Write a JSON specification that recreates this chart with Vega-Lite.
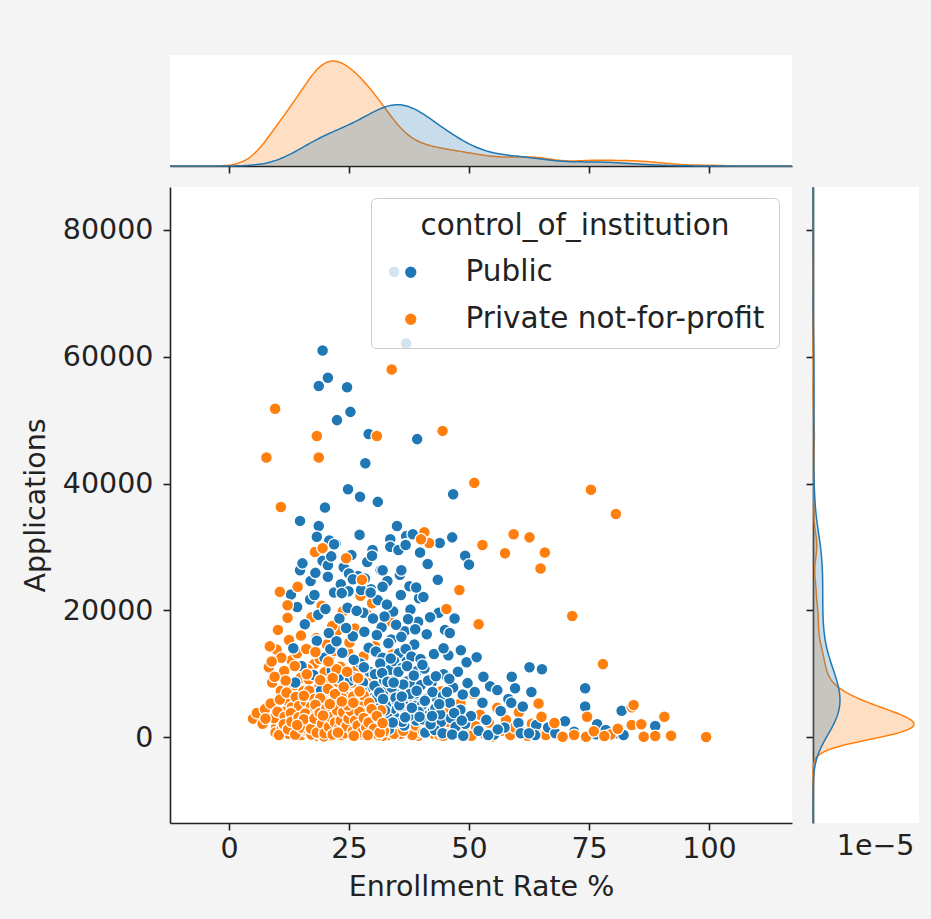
{
  "$schema": "https://vega.github.io/schema/vega-lite/v6.json",
  "background": "#f4f4f4",
  "padding": {"left": 21, "top": 55, "right": 13, "bottom": 18},
  "config": {
    "font": "DejaVu Sans",
    "view": {"stroke": null, "fill": "white"},
    "axis": {
      "labelFont": "DejaVu Sans", "titleFont": "DejaVu Sans",
      "labelFontSize": 28.5, "titleFontSize": 28.5, "titleFontWeight": "normal",
      "labelColor": "#222222", "titleColor": "#222222",
      "domainColor": "#222222", "tickColor": "#222222",
      "domainWidth": 1.6, "tickWidth": 1.6, "tickSize": 7, "grid": false
    }
  },
  "datasets": {
    "colleges": [
      {"rate":5.0,"apps":2900,"control":"Private not-for-profit"},{"rate":7.0,"apps":2100,"control":"Private not-for-profit"},{"rate":8.4,"apps":3600,"control":"Private not-for-profit"},{"rate":9.8,"apps":1500,"control":"Private not-for-profit"},{"rate":10.5,"apps":2800,"control":"Private not-for-profit"},{"rate":11.2,"apps":600,"control":"Private not-for-profit"},
      {"rate":11.9,"apps":4100,"control":"Private not-for-profit"},{"rate":12.6,"apps":1900,"control":"Private not-for-profit"},{"rate":13.3,"apps":300,"control":"Private not-for-profit"},{"rate":14.0,"apps":3300,"control":"Private not-for-profit"},{"rate":14.7,"apps":1100,"control":"Private not-for-profit"},{"rate":9.3,"apps":4700,"control":"Private not-for-profit"},{"rate":10.8,"apps":7300,"control":"Private not-for-profit"},{"rate":12.1,"apps":5800,"control":"Private not-for-profit"},
      {"rate":13.6,"apps":8200,"control":"Private not-for-profit"},{"rate":14.4,"apps":6100,"control":"Private not-for-profit"},{"rate":11.5,"apps":10400,"control":"Private not-for-profit"},{"rate":13.0,"apps":12100,"control":"Private not-for-profit"},{"rate":9.9,"apps":13800,"control":"Private not-for-profit"},{"rate":12.5,"apps":15300,"control":"Private not-for-profit"},{"rate":14.9,"apps":9300,"control":"Private not-for-profit"},{"rate":10.2,"apps":16900,"control":"Private not-for-profit"},{"rate":14.2,"apps":13200,"control":"Private not-for-profit"},
      {"rate":15.2,"apps":500,"control":"Private not-for-profit"},{"rate":15.8,"apps":2600,"control":"Private not-for-profit"},{"rate":16.3,"apps":4300,"control":"Private not-for-profit"},{"rate":16.9,"apps":1400,"control":"Private not-for-profit"},{"rate":17.4,"apps":200,"control":"Private not-for-profit"},{"rate":17.9,"apps":3500,"control":"Private not-for-profit"},{"rate":18.5,"apps":5600,"control":"Private not-for-profit"},{"rate":19.0,"apps":900,"control":"Private not-for-profit"},{"rate":19.6,"apps":2300,"control":"Private not-for-profit"},{"rate":20.1,"apps":6900,"control":"Private not-for-profit"},
      {"rate":20.7,"apps":300,"control":"Private not-for-profit"},{"rate":21.2,"apps":4000,"control":"Private not-for-profit"},{"rate":21.8,"apps":1700,"control":"Private not-for-profit"},{"rate":22.3,"apps":8100,"control":"Private not-for-profit"},{"rate":22.9,"apps":600,"control":"Private not-for-profit"},{"rate":23.4,"apps":3100,"control":"Private not-for-profit"},{"rate":24.0,"apps":5000,"control":"Private not-for-profit"},{"rate":24.6,"apps":1200,"control":"Private not-for-profit"},{"rate":15.5,"apps":7200,"control":"Private not-for-profit"},{"rate":16.6,"apps":9100,"control":"Private not-for-profit"},
      {"rate":17.7,"apps":11500,"control":"Private not-for-profit"},{"rate":18.8,"apps":7800,"control":"Private not-for-profit"},{"rate":19.9,"apps":10200,"control":"Private not-for-profit"},{"rate":21.0,"apps":12800,"control":"Private not-for-profit"},{"rate":22.1,"apps":9800,"control":"Private not-for-profit"},{"rate":23.2,"apps":11100,"control":"Private not-for-profit"},{"rate":24.3,"apps":7500,"control":"Private not-for-profit"},{"rate":16.1,"apps":13900,"control":"Private not-for-profit"},{"rate":18.2,"apps":15600,"control":"Private not-for-profit"},{"rate":20.4,"apps":14600,"control":"Private not-for-profit"},
      {"rate":22.6,"apps":16800,"control":"Private not-for-profit"},{"rate":24.8,"apps":13400,"control":"Private not-for-profit"},{"rate":17.2,"apps":18900,"control":"Private not-for-profit"},{"rate":19.3,"apps":20700,"control":"Private not-for-profit"},{"rate":21.5,"apps":17500,"control":"Private not-for-profit"},{"rate":23.7,"apps":19800,"control":"Private not-for-profit"},{"rate":15.9,"apps":800,"control":"Private not-for-profit"},{"rate":16.8,"apps":3000,"control":"Private not-for-profit"},{"rate":17.6,"apps":1900,"control":"Private not-for-profit"},{"rate":18.3,"apps":400,"control":"Private not-for-profit"},
      {"rate":19.4,"apps":4400,"control":"Private not-for-profit"},{"rate":20.5,"apps":2600,"control":"Private not-for-profit"},{"rate":21.6,"apps":700,"control":"Private not-for-profit"},{"rate":22.7,"apps":5300,"control":"Private not-for-profit"},{"rate":23.8,"apps":2000,"control":"Private not-for-profit"},{"rate":24.5,"apps":3800,"control":"Private not-for-profit"},{"rate":15.3,"apps":4900,"control":"Private not-for-profit"},{"rate":17.0,"apps":6300,"control":"Private not-for-profit"},{"rate":19.1,"apps":6600,"control":"Private not-for-profit"},{"rate":20.9,"apps":5900,"control":"Private not-for-profit"},
      {"rate":23.0,"apps":6800,"control":"Private not-for-profit"},{"rate":24.2,"apps":9000,"control":"Private not-for-profit"},{"rate":16.4,"apps":10700,"control":"Private not-for-profit"},{"rate":18.9,"apps":12300,"control":"Private not-for-profit"},{"rate":21.9,"apps":13600,"control":"Private not-for-profit"},{"rate":19.7,"apps":8700,"control":"Private not-for-profit"},
      {"rate":25.3,"apps":400,"control":"Private not-for-profit"},{"rate":25.9,"apps":2700,"control":"Private not-for-profit"},{"rate":26.5,"apps":5100,"control":"Private not-for-profit"},{"rate":27.1,"apps":1300,"control":"Private not-for-profit"},{"rate":27.7,"apps":3800,"control":"Private not-for-profit"},{"rate":28.3,"apps":600,"control":"Private not-for-profit"},{"rate":28.9,"apps":7000,"control":"Private not-for-profit"},{"rate":29.5,"apps":2200,"control":"Private not-for-profit"},{"rate":30.1,"apps":4500,"control":"Private not-for-profit"},{"rate":30.7,"apps":900,"control":"Private not-for-profit"},
      {"rate":31.3,"apps":6000,"control":"Private not-for-profit"},{"rate":31.9,"apps":1800,"control":"Private not-for-profit"},{"rate":32.5,"apps":3400,"control":"Private not-for-profit"},{"rate":33.1,"apps":300,"control":"Private not-for-profit"},{"rate":33.7,"apps":5400,"control":"Private not-for-profit"},{"rate":34.3,"apps":2500,"control":"Private not-for-profit"},{"rate":34.9,"apps":1000,"control":"Private not-for-profit"},{"rate":25.6,"apps":8600,"control":"Private not-for-profit"},{"rate":26.8,"apps":10800,"control":"Private not-for-profit"},{"rate":28.0,"apps":12700,"control":"Private not-for-profit"},
      {"rate":29.2,"apps":9400,"control":"Private not-for-profit"},{"rate":30.4,"apps":14300,"control":"Private not-for-profit"},{"rate":31.6,"apps":11300,"control":"Private not-for-profit"},{"rate":32.8,"apps":8300,"control":"Private not-for-profit"},{"rate":34.0,"apps":13000,"control":"Private not-for-profit"},{"rate":26.2,"apps":17100,"control":"Private not-for-profit"},{"rate":28.6,"apps":19500,"control":"Private not-for-profit"},{"rate":30.9,"apps":16100,"control":"Private not-for-profit"},{"rate":33.4,"apps":18300,"control":"Private not-for-profit"},{"rate":27.4,"apps":22300,"control":"Private not-for-profit"},
      {"rate":29.8,"apps":21100,"control":"Private not-for-profit"},{"rate":32.2,"apps":24000,"control":"Private not-for-profit"},{"rate":25.1,"apps":14900,"control":"Private not-for-profit"},{"rate":26.0,"apps":1500,"control":"Private not-for-profit"},{"rate":27.9,"apps":2900,"control":"Private not-for-profit"},{"rate":29.0,"apps":500,"control":"Private not-for-profit"},{"rate":30.6,"apps":3100,"control":"Private not-for-profit"},{"rate":32.0,"apps":4900,"control":"Private not-for-profit"},{"rate":33.5,"apps":1400,"control":"Private not-for-profit"},{"rate":34.6,"apps":6700,"control":"Private not-for-profit"},
      {"rate":35.4,"apps":300,"control":"Private not-for-profit"},{"rate":36.2,"apps":1900,"control":"Private not-for-profit"},{"rate":37.0,"apps":4200,"control":"Private not-for-profit"},{"rate":37.8,"apps":800,"control":"Private not-for-profit"},{"rate":38.6,"apps":2800,"control":"Private not-for-profit"},{"rate":39.4,"apps":200,"control":"Private not-for-profit"},{"rate":40.2,"apps":5800,"control":"Private not-for-profit"},{"rate":41.0,"apps":1500,"control":"Private not-for-profit"},{"rate":41.8,"apps":3600,"control":"Private not-for-profit"},{"rate":42.6,"apps":500,"control":"Private not-for-profit"},
      {"rate":43.4,"apps":2400,"control":"Private not-for-profit"},{"rate":44.2,"apps":7200,"control":"Private not-for-profit"},{"rate":45.0,"apps":1100,"control":"Private not-for-profit"},{"rate":45.8,"apps":3900,"control":"Private not-for-profit"},{"rate":46.6,"apps":400,"control":"Private not-for-profit"},{"rate":47.4,"apps":2000,"control":"Private not-for-profit"},{"rate":48.2,"apps":5300,"control":"Private not-for-profit"},{"rate":49.0,"apps":900,"control":"Private not-for-profit"},{"rate":49.8,"apps":2900,"control":"Private not-for-profit"},
      {"rate":39.1,"apps":600,"control":"Private not-for-profit"},{"rate":43.8,"apps":300,"control":"Private not-for-profit"},{"rate":46.9,"apps":1300,"control":"Private not-for-profit"},
      {"rate":30.8,"apps":1700,"control":"Private not-for-profit"},{"rate":31.5,"apps":3500,"control":"Private not-for-profit"},{"rate":32.0,"apps":200,"control":"Private not-for-profit"},{"rate":32.7,"apps":2600,"control":"Private not-for-profit"},{"rate":33.3,"apps":4400,"control":"Private not-for-profit"},{"rate":33.9,"apps":900,"control":"Private not-for-profit"},{"rate":34.6,"apps":3100,"control":"Private not-for-profit"},{"rate":35.1,"apps":1700,"control":"Private not-for-profit"},{"rate":35.8,"apps":500,"control":"Private not-for-profit"},{"rate":36.4,"apps":3300,"control":"Private not-for-profit"},
      {"rate":37.1,"apps":1200,"control":"Private not-for-profit"},{"rate":37.6,"apps":2400,"control":"Private not-for-profit"},{"rate":38.2,"apps":300,"control":"Private not-for-profit"},{"rate":38.9,"apps":1800,"control":"Private not-for-profit"},{"rate":39.7,"apps":3700,"control":"Private not-for-profit"},{"rate":40.5,"apps":800,"control":"Private not-for-profit"},{"rate":41.3,"apps":2600,"control":"Private not-for-profit"},{"rate":42.2,"apps":1300,"control":"Private not-for-profit"},{"rate":43.0,"apps":3900,"control":"Private not-for-profit"},{"rate":44.6,"apps":200,"control":"Private not-for-profit"},
      {"rate":45.6,"apps":2400,"control":"Private not-for-profit"},{"rate":47.0,"apps":600,"control":"Private not-for-profit"},{"rate":48.6,"apps":1700,"control":"Private not-for-profit"},{"rate":34.0,"apps":5800,"control":"Private not-for-profit"},{"rate":36.8,"apps":6200,"control":"Private not-for-profit"},{"rate":39.3,"apps":5100,"control":"Private not-for-profit"},
      {"rate":26.2,"apps":1000,"control":"Private not-for-profit"},{"rate":26.9,"apps":3000,"control":"Private not-for-profit"},{"rate":27.6,"apps":2300,"control":"Private not-for-profit"},{"rate":28.2,"apps":4100,"control":"Private not-for-profit"},{"rate":28.8,"apps":1400,"control":"Private not-for-profit"},{"rate":29.3,"apps":300,"control":"Private not-for-profit"},{"rate":29.9,"apps":2700,"control":"Private not-for-profit"},{"rate":30.2,"apps":5200,"control":"Private not-for-profit"},{"rate":31.2,"apps":1200,"control":"Private not-for-profit"},{"rate":31.8,"apps":2800,"control":"Private not-for-profit"},
      {"rate":32.6,"apps":4000,"control":"Private not-for-profit"},{"rate":33.2,"apps":2000,"control":"Private not-for-profit"},{"rate":33.8,"apps":3600,"control":"Private not-for-profit"},{"rate":34.4,"apps":500,"control":"Private not-for-profit"},{"rate":35.0,"apps":2900,"control":"Private not-for-profit"},{"rate":35.6,"apps":4300,"control":"Private not-for-profit"},{"rate":36.3,"apps":1000,"control":"Private not-for-profit"},{"rate":37.3,"apps":3500,"control":"Private not-for-profit"},{"rate":26.5,"apps":6700,"control":"Private not-for-profit"},{"rate":29.5,"apps":7300,"control":"Private not-for-profit"},
      {"rate":31.4,"apps":8000,"control":"Private not-for-profit"},{"rate":33.0,"apps":6300,"control":"Private not-for-profit"},
      {"rate":50.5,"apps":200,"control":"Private not-for-profit"},{"rate":51.4,"apps":1700,"control":"Private not-for-profit"},{"rate":52.3,"apps":3500,"control":"Private not-for-profit"},{"rate":53.2,"apps":500,"control":"Private not-for-profit"},{"rate":54.1,"apps":2300,"control":"Private not-for-profit"},{"rate":55.0,"apps":100,"control":"Private not-for-profit"},{"rate":55.9,"apps":4600,"control":"Private not-for-profit"},{"rate":56.8,"apps":1000,"control":"Private not-for-profit"},{"rate":57.7,"apps":2700,"control":"Private not-for-profit"},{"rate":58.6,"apps":300,"control":"Private not-for-profit"},
      {"rate":59.5,"apps":1500,"control":"Private not-for-profit"},{"rate":60.4,"apps":3900,"control":"Private not-for-profit"},{"rate":61.3,"apps":700,"control":"Private not-for-profit"},{"rate":62.2,"apps":200,"control":"Private not-for-profit"},{"rate":63.1,"apps":2100,"control":"Private not-for-profit"},{"rate":64.0,"apps":600,"control":"Private not-for-profit"},{"rate":66.0,"apps":300,"control":"Private not-for-profit"},{"rate":51.0,"apps":6800,"control":"Private not-for-profit"},

      {"rate":12.5,"apps":2800,"control":"Public"},{"rate":13.4,"apps":14000,"control":"Public"},{"rate":14.2,"apps":20500,"control":"Public"},{"rate":15.1,"apps":11200,"control":"Public"},{"rate":15.8,"apps":17800,"control":"Public"},{"rate":16.4,"apps":6300,"control":"Public"},{"rate":17.0,"apps":24600,"control":"Public"},{"rate":17.6,"apps":9800,"control":"Public"},{"rate":18.3,"apps":15200,"control":"Public"},{"rate":18.9,"apps":4100,"control":"Public"},
      {"rate":19.5,"apps":27800,"control":"Public"},{"rate":19.9,"apps":12500,"control":"Public"},{"rate":14.8,"apps":26300,"control":"Public"},{"rate":16.9,"apps":21700,"control":"Public"},{"rate":18.6,"apps":19300,"control":"Public"},{"rate":13.8,"apps":8600,"control":"Public"},{"rate":15.5,"apps":1600,"control":"Public"},{"rate":17.3,"apps":3300,"control":"Public"},{"rate":19.2,"apps":7400,"control":"Public"},{"rate":12.9,"apps":22500,"control":"Public"},
      {"rate":20.3,"apps":3600,"control":"Public"},{"rate":20.8,"apps":16400,"control":"Public"},{"rate":21.4,"apps":10500,"control":"Public"},{"rate":21.9,"apps":22800,"control":"Public"},{"rate":22.5,"apps":6800,"control":"Public"},{"rate":23.0,"apps":18700,"control":"Public"},{"rate":23.6,"apps":13300,"control":"Public"},{"rate":24.1,"apps":2200,"control":"Public"},{"rate":24.7,"apps":20400,"control":"Public"},{"rate":25.2,"apps":8900,"control":"Public"},
      {"rate":25.8,"apps":15900,"control":"Public"},{"rate":26.3,"apps":5200,"control":"Public"},{"rate":26.9,"apps":25400,"control":"Public"},{"rate":27.4,"apps":11600,"control":"Public"},{"rate":28.0,"apps":19600,"control":"Public"},{"rate":28.5,"apps":7700,"control":"Public"},{"rate":29.1,"apps":14100,"control":"Public"},{"rate":29.6,"apps":23300,"control":"Public"},{"rate":20.6,"apps":27100,"control":"Public"},{"rate":22.2,"apps":30500,"control":"Public"},
      {"rate":23.9,"apps":26800,"control":"Public"},{"rate":25.5,"apps":28700,"control":"Public"},{"rate":27.2,"apps":31900,"control":"Public"},{"rate":28.8,"apps":27600,"control":"Public"},{"rate":21.1,"apps":13900,"control":"Public"},{"rate":22.8,"apps":9300,"control":"Public"},{"rate":24.4,"apps":17200,"control":"Public"},{"rate":26.0,"apps":12200,"control":"Public"},{"rate":27.7,"apps":4400,"control":"Public"},{"rate":29.3,"apps":10300,"control":"Public"},
      {"rate":20.1,"apps":20200,"control":"Public"},{"rate":23.3,"apps":24100,"control":"Public"},{"rate":26.6,"apps":19900,"control":"Public"},{"rate":28.2,"apps":16600,"control":"Public"},{"rate":29.9,"apps":6100,"control":"Public"},{"rate":25.0,"apps":3100,"control":"Public"},{"rate":21.7,"apps":5700,"control":"Public"},{"rate":27.9,"apps":8600,"control":"Public"},{"rate":24.9,"apps":23000,"control":"Public"},{"rate":22.4,"apps":15100,"control":"Public"},
      {"rate":30.2,"apps":4700,"control":"Public"},{"rate":30.6,"apps":13500,"control":"Public"},{"rate":31.0,"apps":21600,"control":"Public"},{"rate":31.4,"apps":8200,"control":"Public"},{"rate":31.8,"apps":17300,"control":"Public"},{"rate":32.2,"apps":2900,"control":"Public"},{"rate":32.6,"apps":11000,"control":"Public"},{"rate":33.0,"apps":24600,"control":"Public"},{"rate":33.4,"apps":6500,"control":"Public"},{"rate":33.8,"apps":15400,"control":"Public"},
      {"rate":34.2,"apps":19800,"control":"Public"},{"rate":34.6,"apps":9600,"control":"Public"},{"rate":35.0,"apps":3700,"control":"Public"},{"rate":35.4,"apps":13200,"control":"Public"},{"rate":35.8,"apps":22400,"control":"Public"},{"rate":36.2,"apps":7200,"control":"Public"},{"rate":36.6,"apps":16700,"control":"Public"},{"rate":37.0,"apps":11900,"control":"Public"},{"rate":37.4,"apps":5300,"control":"Public"},{"rate":37.8,"apps":20100,"control":"Public"},
      {"rate":38.2,"apps":9000,"control":"Public"},{"rate":38.6,"apps":14600,"control":"Public"},{"rate":39.0,"apps":2600,"control":"Public"},{"rate":39.4,"apps":18200,"control":"Public"},{"rate":39.8,"apps":7900,"control":"Public"},{"rate":30.4,"apps":9900,"control":"Public"},{"rate":30.8,"apps":16100,"control":"Public"},{"rate":31.2,"apps":5500,"control":"Public"},{"rate":31.6,"apps":26300,"control":"Public"},{"rate":32.0,"apps":12500,"control":"Public"},
      {"rate":32.4,"apps":19000,"control":"Public"},{"rate":32.8,"apps":7300,"control":"Public"},{"rate":33.2,"apps":14800,"control":"Public"},{"rate":33.6,"apps":10600,"control":"Public"},{"rate":34.0,"apps":4400,"control":"Public"},{"rate":34.4,"apps":12000,"control":"Public"},{"rate":34.8,"apps":17700,"control":"Public"},{"rate":35.2,"apps":8400,"control":"Public"},{"rate":35.6,"apps":25600,"control":"Public"},{"rate":36.0,"apps":10900,"control":"Public"},
      {"rate":36.4,"apps":4300,"control":"Public"},{"rate":36.8,"apps":13900,"control":"Public"},{"rate":37.2,"apps":8800,"control":"Public"},{"rate":37.6,"apps":23800,"control":"Public"},{"rate":38.0,"apps":12700,"control":"Public"},{"rate":38.4,"apps":6100,"control":"Public"},{"rate":38.8,"apps":17000,"control":"Public"},{"rate":39.2,"apps":10400,"control":"Public"},{"rate":39.6,"apps":21900,"control":"Public"},{"rate":30.0,"apps":18700,"control":"Public"},
      {"rate":31.5,"apps":11600,"control":"Public"},{"rate":32.9,"apps":20900,"control":"Public"},{"rate":34.5,"apps":6900,"control":"Public"},{"rate":35.9,"apps":15800,"control":"Public"},{"rate":37.3,"apps":18600,"control":"Public"},{"rate":38.7,"apps":4900,"control":"Public"},{"rate":33.3,"apps":1200,"control":"Public"},{"rate":36.5,"apps":1800,"control":"Public"},{"rate":39.9,"apps":12300,"control":"Public"},
      {"rate":40.2,"apps":5000,"control":"Public"},{"rate":40.7,"apps":10800,"control":"Public"},{"rate":41.2,"apps":16200,"control":"Public"},{"rate":41.7,"apps":3500,"control":"Public"},{"rate":42.2,"apps":8600,"control":"Public"},{"rate":42.7,"apps":13100,"control":"Public"},{"rate":43.2,"apps":6200,"control":"Public"},{"rate":43.7,"apps":19600,"control":"Public"},{"rate":44.2,"apps":2400,"control":"Public"},{"rate":44.7,"apps":9900,"control":"Public"},
      {"rate":45.2,"apps":5600,"control":"Public"},{"rate":45.7,"apps":12900,"control":"Public"},{"rate":46.2,"apps":3000,"control":"Public"},{"rate":46.7,"apps":7800,"control":"Public"},{"rate":47.2,"apps":1600,"control":"Public"},{"rate":47.7,"apps":10300,"control":"Public"},{"rate":48.2,"apps":4300,"control":"Public"},{"rate":48.7,"apps":6700,"control":"Public"},{"rate":49.2,"apps":2100,"control":"Public"},{"rate":49.7,"apps":8500,"control":"Public"},
      {"rate":40.5,"apps":22100,"control":"Public"},{"rate":41.9,"apps":18900,"control":"Public"},{"rate":43.5,"apps":24800,"control":"Public"},{"rate":45.0,"apps":16900,"control":"Public"},{"rate":48.3,"apps":13700,"control":"Public"},{"rate":49.5,"apps":11800,"control":"Public"},{"rate":40.9,"apps":700,"control":"Public"},{"rate":42.9,"apps":1100,"control":"Public"},{"rate":44.5,"apps":600,"control":"Public"},{"rate":46.5,"apps":400,"control":"Public"},
      {"rate":48.8,"apps":200,"control":"Public"},{"rate":41.4,"apps":27300,"control":"Public"},{"rate":43.9,"apps":30600,"control":"Public"},{"rate":42.5,"apps":4100,"control":"Public"},{"rate":45.9,"apps":9200,"control":"Public"},
      {"rate":50.4,"apps":3300,"control":"Public"},{"rate":51.2,"apps":7100,"control":"Public"},{"rate":52.0,"apps":1000,"control":"Public"},{"rate":52.8,"apps":5400,"control":"Public"},{"rate":53.6,"apps":2700,"control":"Public"},{"rate":54.4,"apps":8000,"control":"Public"},{"rate":55.2,"apps":400,"control":"Public"},{"rate":56.6,"apps":4100,"control":"Public"},{"rate":57.4,"apps":1500,"control":"Public"},{"rate":58.2,"apps":6000,"control":"Public"},
      {"rate":60.3,"apps":2200,"control":"Public"},{"rate":64.0,"apps":1900,"control":"Public"},{"rate":51.6,"apps":12600,"control":"Public"},{"rate":54.0,"apps":300,"control":"Public"},{"rate":56.0,"apps":1200,"control":"Public"},{"rate":60.8,"apps":600,"control":"Public"},{"rate":63.8,"apps":300,"control":"Public"},
      {"rate":27.8,"apps":7100,"control":"Public"},{"rate":28.6,"apps":5300,"control":"Public"},{"rate":29.4,"apps":2800,"control":"Public"},{"rate":30.3,"apps":8100,"control":"Public"},{"rate":30.9,"apps":6300,"control":"Public"},{"rate":31.7,"apps":3900,"control":"Public"},{"rate":32.3,"apps":9000,"control":"Public"},{"rate":32.7,"apps":5000,"control":"Public"},{"rate":33.1,"apps":3000,"control":"Public"},{"rate":33.9,"apps":7800,"control":"Public"},
      {"rate":34.9,"apps":5700,"control":"Public"},{"rate":35.7,"apps":4800,"control":"Public"},{"rate":36.1,"apps":2400,"control":"Public"},{"rate":36.9,"apps":6600,"control":"Public"},{"rate":37.5,"apps":3300,"control":"Public"},{"rate":37.9,"apps":8100,"control":"Public"},{"rate":38.9,"apps":6900,"control":"Public"},{"rate":39.5,"apps":4000,"control":"Public"},{"rate":40.0,"apps":8200,"control":"Public"},{"rate":40.4,"apps":2800,"control":"Public"},
      {"rate":41.0,"apps":6000,"control":"Public"},{"rate":42.0,"apps":2000,"control":"Public"},{"rate":42.4,"apps":7100,"control":"Public"},{"rate":43.0,"apps":4500,"control":"Public"},{"rate":44.0,"apps":3600,"control":"Public"},{"rate":44.6,"apps":6500,"control":"Public"},{"rate":46.0,"apps":5400,"control":"Public"},{"rate":46.9,"apps":3800,"control":"Public"},{"rate":48.5,"apps":2600,"control":"Public"},{"rate":26.2,"apps":9400,"control":"Public"},
      {"rate":25.4,"apps":6400,"control":"Public"},{"rate":23.8,"apps":4900,"control":"Public"},
      {"rate":30.5,"apps":3400,"control":"Public"},{"rate":31.3,"apps":7000,"control":"Public"},{"rate":31.9,"apps":10100,"control":"Public"},{"rate":32.5,"apps":4200,"control":"Public"},{"rate":33.0,"apps":8700,"control":"Public"},{"rate":33.7,"apps":12400,"control":"Public"},{"rate":34.1,"apps":2300,"control":"Public"},{"rate":34.7,"apps":6200,"control":"Public"},{"rate":35.3,"apps":10300,"control":"Public"},{"rate":35.5,"apps":5000,"control":"Public"},
      {"rate":36.3,"apps":8300,"control":"Public"},{"rate":36.7,"apps":3100,"control":"Public"},{"rate":37.1,"apps":11200,"control":"Public"},{"rate":37.7,"apps":6800,"control":"Public"},{"rate":38.1,"apps":4600,"control":"Public"},{"rate":38.5,"apps":9700,"control":"Public"},{"rate":39.1,"apps":7300,"control":"Public"},{"rate":39.7,"apps":3200,"control":"Public"},{"rate":40.3,"apps":11400,"control":"Public"},{"rate":40.8,"apps":5700,"control":"Public"},
      {"rate":41.5,"apps":8900,"control":"Public"},{"rate":42.3,"apps":3300,"control":"Public"},{"rate":43.1,"apps":9600,"control":"Public"},{"rate":43.8,"apps":5200,"control":"Public"},{"rate":45.4,"apps":7100,"control":"Public"},{"rate":32.1,"apps":6000,"control":"Public"},{"rate":34.3,"apps":8600,"control":"Public"},{"rate":36.0,"apps":6400,"control":"Public"},{"rate":29.0,"apps":5600,"control":"Public"},{"rate":28.1,"apps":11000,"control":"Public"},

      {"rate":5.8,"apps":3800,"control":"Private not-for-profit"},{"rate":7.5,"apps":4400,"control":"Private not-for-profit"},{"rate":8.7,"apps":5300,"control":"Private not-for-profit"},{"rate":9.4,"apps":3000,"control":"Private not-for-profit"},{"rate":9.7,"apps":700,"control":"Private not-for-profit"},{"rate":10.1,"apps":4000,"control":"Private not-for-profit"},{"rate":10.6,"apps":5900,"control":"Private not-for-profit"},
      {"rate":11.0,"apps":1300,"control":"Private not-for-profit"},{"rate":11.6,"apps":3200,"control":"Private not-for-profit"},{"rate":12.0,"apps":7000,"control":"Private not-for-profit"},{"rate":12.4,"apps":500,"control":"Private not-for-profit"},{"rate":12.8,"apps":2600,"control":"Private not-for-profit"},{"rate":13.1,"apps":4700,"control":"Private not-for-profit"},{"rate":13.5,"apps":1500,"control":"Private not-for-profit"},{"rate":13.9,"apps":6300,"control":"Private not-for-profit"},{"rate":14.3,"apps":2200,"control":"Private not-for-profit"},{"rate":14.6,"apps":4900,"control":"Private not-for-profit"},
      {"rate":15.0,"apps":300,"control":"Private not-for-profit"},{"rate":15.4,"apps":1900,"control":"Private not-for-profit"},{"rate":15.7,"apps":3400,"control":"Private not-for-profit"},{"rate":16.0,"apps":5600,"control":"Private not-for-profit"},{"rate":16.2,"apps":800,"control":"Private not-for-profit"},{"rate":16.5,"apps":2400,"control":"Private not-for-profit"},{"rate":16.7,"apps":7300,"control":"Private not-for-profit"},{"rate":17.1,"apps":4800,"control":"Private not-for-profit"},{"rate":17.5,"apps":1000,"control":"Private not-for-profit"},{"rate":17.8,"apps":6000,"control":"Private not-for-profit"},
      {"rate":18.1,"apps":2700,"control":"Private not-for-profit"},{"rate":18.4,"apps":200,"control":"Private not-for-profit"},{"rate":18.7,"apps":4200,"control":"Private not-for-profit"},{"rate":19.2,"apps":1600,"control":"Private not-for-profit"},{"rate":19.5,"apps":5000,"control":"Private not-for-profit"},{"rate":19.8,"apps":3200,"control":"Private not-for-profit"},{"rate":20.2,"apps":600,"control":"Private not-for-profit"},{"rate":20.6,"apps":4700,"control":"Private not-for-profit"},{"rate":20.9,"apps":1900,"control":"Private not-for-profit"},{"rate":21.3,"apps":7200,"control":"Private not-for-profit"},
      {"rate":21.7,"apps":2900,"control":"Private not-for-profit"},{"rate":22.0,"apps":400,"control":"Private not-for-profit"},{"rate":22.4,"apps":3600,"control":"Private not-for-profit"},{"rate":22.8,"apps":6200,"control":"Private not-for-profit"},{"rate":23.1,"apps":1500,"control":"Private not-for-profit"},{"rate":23.5,"apps":4600,"control":"Private not-for-profit"},{"rate":23.9,"apps":800,"control":"Private not-for-profit"},{"rate":24.3,"apps":2400,"control":"Private not-for-profit"},{"rate":24.7,"apps":6400,"control":"Private not-for-profit"},{"rate":25.0,"apps":1800,"control":"Private not-for-profit"},
      {"rate":25.5,"apps":3300,"control":"Private not-for-profit"},{"rate":26.1,"apps":700,"control":"Private not-for-profit"},{"rate":26.7,"apps":2200,"control":"Private not-for-profit"},{"rate":27.3,"apps":5600,"control":"Private not-for-profit"},{"rate":27.8,"apps":400,"control":"Private not-for-profit"},{"rate":28.4,"apps":1900,"control":"Private not-for-profit"},{"rate":29.0,"apps":3600,"control":"Private not-for-profit"},{"rate":29.7,"apps":1100,"control":"Private not-for-profit"},{"rate":30.3,"apps":2500,"control":"Private not-for-profit"},{"rate":31.0,"apps":300,"control":"Private not-for-profit"},
      {"rate":7.6,"apps":2900,"control":"Private not-for-profit"},{"rate":10.4,"apps":300,"control":"Private not-for-profit"},{"rate":11.4,"apps":2000,"control":"Private not-for-profit"},{"rate":12.9,"apps":3800,"control":"Private not-for-profit"},{"rate":14.1,"apps":800,"control":"Private not-for-profit"},{"rate":15.6,"apps":6500,"control":"Private not-for-profit"},{"rate":17.3,"apps":2600,"control":"Private not-for-profit"},{"rate":18.9,"apps":5300,"control":"Private not-for-profit"},
      {"rate":20.3,"apps":1300,"control":"Private not-for-profit"},{"rate":21.9,"apps":4900,"control":"Private not-for-profit"},{"rate":23.3,"apps":200,"control":"Private not-for-profit"},{"rate":24.9,"apps":4300,"control":"Private not-for-profit"},{"rate":26.4,"apps":3800,"control":"Private not-for-profit"},{"rate":28.1,"apps":6500,"control":"Private not-for-profit"},{"rate":29.4,"apps":2900,"control":"Private not-for-profit"},{"rate":9.0,"apps":8600,"control":"Private not-for-profit"},{"rate":11.8,"apps":8900,"control":"Private not-for-profit"},{"rate":16.2,"apps":9900,"control":"Private not-for-profit"},
      {"rate":19.0,"apps":9000,"control":"Private not-for-profit"},{"rate":22.4,"apps":10700,"control":"Private not-for-profit"},{"rate":26.9,"apps":9300,"control":"Private not-for-profit"},{"rate":13.7,"apps":11200,"control":"Private not-for-profit"},{"rate":18.0,"apps":13400,"control":"Private not-for-profit"},{"rate":8.3,"apps":11000,"control":"Private not-for-profit"},{"rate":10.9,"apps":12500,"control":"Private not-for-profit"},{"rate":15.0,"apps":16000,"control":"Private not-for-profit"},{"rate":12.2,"apps":18800,"control":"Private not-for-profit"},
      {"rate":18.2,"apps":1100,"control":"Private not-for-profit"},{"rate":18.6,"apps":3000,"control":"Private not-for-profit"},{"rate":19.3,"apps":300,"control":"Private not-for-profit"},{"rate":19.7,"apps":4100,"control":"Private not-for-profit"},{"rate":20.0,"apps":2000,"control":"Private not-for-profit"},{"rate":20.4,"apps":5400,"control":"Private not-for-profit"},{"rate":20.8,"apps":900,"control":"Private not-for-profit"},{"rate":21.1,"apps":3300,"control":"Private not-for-profit"},{"rate":21.4,"apps":200,"control":"Private not-for-profit"},{"rate":21.9,"apps":1500,"control":"Private not-for-profit"},
      {"rate":22.2,"apps":5700,"control":"Private not-for-profit"},{"rate":22.6,"apps":2800,"control":"Private not-for-profit"},{"rate":22.9,"apps":4000,"control":"Private not-for-profit"},{"rate":23.2,"apps":1000,"control":"Private not-for-profit"},{"rate":23.6,"apps":6100,"control":"Private not-for-profit"},{"rate":24.0,"apps":2700,"control":"Private not-for-profit"},{"rate":24.4,"apps":500,"control":"Private not-for-profit"},{"rate":24.8,"apps":3500,"control":"Private not-for-profit"},{"rate":25.2,"apps":5200,"control":"Private not-for-profit"},{"rate":25.7,"apps":1200,"control":"Private not-for-profit"},
      {"rate":26.0,"apps":4300,"control":"Private not-for-profit"},{"rate":26.3,"apps":2100,"control":"Private not-for-profit"},{"rate":26.6,"apps":600,"control":"Private not-for-profit"},{"rate":27.0,"apps":3200,"control":"Private not-for-profit"},{"rate":27.5,"apps":1700,"control":"Private not-for-profit"},{"rate":27.9,"apps":4800,"control":"Private not-for-profit"},{"rate":28.3,"apps":2500,"control":"Private not-for-profit"},{"rate":28.7,"apps":900,"control":"Private not-for-profit"},{"rate":29.2,"apps":5400,"control":"Private not-for-profit"},{"rate":29.6,"apps":1600,"control":"Private not-for-profit"},
      {"rate":30.0,"apps":3800,"control":"Private not-for-profit"},{"rate":30.5,"apps":600,"control":"Private not-for-profit"},{"rate":31.1,"apps":2000,"control":"Private not-for-profit"},{"rate":31.7,"apps":4200,"control":"Private not-for-profit"},{"rate":32.3,"apps":900,"control":"Private not-for-profit"},{"rate":19.0,"apps":6100,"control":"Private not-for-profit"},{"rate":20.6,"apps":7600,"control":"Private not-for-profit"},{"rate":22.1,"apps":6800,"control":"Private not-for-profit"},{"rate":23.9,"apps":7900,"control":"Private not-for-profit"},{"rate":25.9,"apps":6400,"control":"Private not-for-profit"},
      {"rate":27.2,"apps":7200,"control":"Private not-for-profit"},{"rate":17.0,"apps":800,"control":"Private not-for-profit"},{"rate":17.7,"apps":3900,"control":"Private not-for-profit"},{"rate":18.0,"apps":5100,"control":"Private not-for-profit"},{"rate":16.6,"apps":1700,"control":"Private not-for-profit"},{"rate":21.6,"apps":9300,"control":"Private not-for-profit"},{"rate":24.6,"apps":10300,"control":"Private not-for-profit"},{"rate":20.7,"apps":11900,"control":"Private not-for-profit"},
      {"rate":12.3,"apps":1200,"control":"Private not-for-profit"},{"rate":13.0,"apps":2400,"control":"Private not-for-profit"},{"rate":13.8,"apps":400,"control":"Private not-for-profit"},{"rate":14.5,"apps":3100,"control":"Private not-for-profit"},{"rate":15.1,"apps":1500,"control":"Private not-for-profit"},{"rate":15.9,"apps":3700,"control":"Private not-for-profit"},{"rate":16.8,"apps":600,"control":"Private not-for-profit"},{"rate":17.4,"apps":2200,"control":"Private not-for-profit"},{"rate":18.0,"apps":3300,"control":"Private not-for-profit"},{"rate":18.8,"apps":700,"control":"Private not-for-profit"},
      {"rate":19.5,"apps":1300,"control":"Private not-for-profit"},{"rate":20.1,"apps":3900,"control":"Private not-for-profit"},{"rate":20.8,"apps":2300,"control":"Private not-for-profit"},{"rate":21.5,"apps":1000,"control":"Private not-for-profit"},{"rate":22.2,"apps":3000,"control":"Private not-for-profit"},{"rate":22.9,"apps":1900,"control":"Private not-for-profit"},{"rate":23.6,"apps":300,"control":"Private not-for-profit"},{"rate":24.2,"apps":3700,"control":"Private not-for-profit"},{"rate":24.9,"apps":1100,"control":"Private not-for-profit"},{"rate":25.6,"apps":2500,"control":"Private not-for-profit"},
      {"rate":26.1,"apps":3600,"control":"Private not-for-profit"},{"rate":19.8,"apps":100,"control":"Private not-for-profit"},{"rate":17.2,"apps":400,"control":"Private not-for-profit"},{"rate":15.6,"apps":2800,"control":"Private not-for-profit"},{"rate":14.2,"apps":1900,"control":"Private not-for-profit"},{"rate":21.2,"apps":2700,"control":"Private not-for-profit"},{"rate":23.0,"apps":3500,"control":"Private not-for-profit"},{"rate":25.3,"apps":600,"control":"Private not-for-profit"},{"rate":18.5,"apps":2000,"control":"Private not-for-profit"},{"rate":20.5,"apps":3500,"control":"Private not-for-profit"},
      {"rate":17.1,"apps":1300,"control":"Private not-for-profit"},{"rate":17.8,"apps":2900,"control":"Private not-for-profit"},{"rate":18.3,"apps":700,"control":"Private not-for-profit"},{"rate":18.9,"apps":3800,"control":"Private not-for-profit"},{"rate":19.4,"apps":2100,"control":"Private not-for-profit"},{"rate":19.9,"apps":600,"control":"Private not-for-profit"},{"rate":20.3,"apps":4500,"control":"Private not-for-profit"},{"rate":20.8,"apps":1600,"control":"Private not-for-profit"},{"rate":21.2,"apps":3100,"control":"Private not-for-profit"},{"rate":21.6,"apps":400,"control":"Private not-for-profit"},
      {"rate":22.1,"apps":2300,"control":"Private not-for-profit"},{"rate":22.5,"apps":4200,"control":"Private not-for-profit"},{"rate":22.9,"apps":1300,"control":"Private not-for-profit"},{"rate":23.3,"apps":2600,"control":"Private not-for-profit"},{"rate":23.8,"apps":3900,"control":"Private not-for-profit"},{"rate":24.1,"apps":600,"control":"Private not-for-profit"},{"rate":24.5,"apps":1700,"control":"Private not-for-profit"},{"rate":24.9,"apps":2900,"control":"Private not-for-profit"},{"rate":25.4,"apps":4100,"control":"Private not-for-profit"},{"rate":25.8,"apps":900,"control":"Private not-for-profit"},
      {"rate":26.3,"apps":2600,"control":"Private not-for-profit"},{"rate":26.8,"apps":1800,"control":"Private not-for-profit"},{"rate":27.2,"apps":4000,"control":"Private not-for-profit"},{"rate":27.7,"apps":700,"control":"Private not-for-profit"},{"rate":28.1,"apps":3000,"control":"Private not-for-profit"},{"rate":28.6,"apps":1500,"control":"Private not-for-profit"},{"rate":29.1,"apps":2300,"control":"Private not-for-profit"},{"rate":29.7,"apps":4400,"control":"Private not-for-profit"},{"rate":30.2,"apps":1300,"control":"Private not-for-profit"},{"rate":30.8,"apps":3300,"control":"Private not-for-profit"},
      {"rate":31.4,"apps":700,"control":"Private not-for-profit"},{"rate":32.0,"apps":2200,"control":"Private not-for-profit"},{"rate":22.7,"apps":700,"control":"Private not-for-profit"},{"rate":24.7,"apps":5000,"control":"Private not-for-profit"},{"rate":26.0,"apps":200,"control":"Private not-for-profit"},{"rate":28.9,"apps":300,"control":"Private not-for-profit"},{"rate":19.6,"apps":3400,"control":"Private not-for-profit"},{"rate":21.0,"apps":5200,"control":"Private not-for-profit"},{"rate":23.5,"apps":5600,"control":"Private not-for-profit"},{"rate":25.9,"apps":5400,"control":"Private not-for-profit"},

      {"rate":34.4,"apps":73400,"control":"Public"},{"rate":36.9,"apps":62100,"control":"Public"},{"rate":19.5,"apps":61000,"control":"Public"},{"rate":20.6,"apps":56700,"control":"Public"},{"rate":18.7,"apps":55400,"control":"Public"},{"rate":24.6,"apps":55200,"control":"Public"},{"rate":25.3,"apps":51300,"control":"Public"},{"rate":22.5,"apps":50000,"control":"Public"},{"rate":29.1,"apps":47800,"control":"Public"},{"rate":39.2,"apps":47000,"control":"Public"},
      {"rate":28.4,"apps":43200,"control":"Public"},{"rate":46.7,"apps":38300,"control":"Public"},{"rate":24.8,"apps":39100,"control":"Public"},{"rate":27.3,"apps":37900,"control":"Public"},{"rate":31.0,"apps":37100,"control":"Public"},{"rate":20.0,"apps":36200,"control":"Public"},{"rate":14.8,"apps":34100,"control":"Public"},{"rate":18.7,"apps":33300,"control":"Public"},{"rate":18.3,"apps":31600,"control":"Public"},{"rate":20.9,"apps":31000,"control":"Public"},
      {"rate":21.9,"apps":30400,"control":"Public"},{"rate":35.0,"apps":33300,"control":"Public"},{"rate":33.6,"apps":31200,"control":"Public"},{"rate":36.9,"apps":31700,"control":"Public"},{"rate":38.3,"apps":32000,"control":"Public"},{"rate":36.9,"apps":30400,"control":"Public"},{"rate":40.0,"apps":29200,"control":"Public"},{"rate":46.5,"apps":31500,"control":"Public"},{"rate":49.2,"apps":28600,"control":"Public"},{"rate":50.0,"apps":27200,"control":"Public"},
      {"rate":15.3,"apps":27400,"control":"Public"},{"rate":18.0,"apps":25900,"control":"Public"},{"rate":20.6,"apps":25300,"control":"Public"},{"rate":21.3,"apps":28500,"control":"Public"},{"rate":29.9,"apps":29500,"control":"Public"},{"rate":29.8,"apps":28600,"control":"Public"},{"rate":25.0,"apps":25800,"control":"Public"},{"rate":25.8,"apps":24900,"control":"Public"},{"rate":28.3,"apps":25000,"control":"Public"},{"rate":27.5,"apps":23200,"control":"Public"},
      {"rate":29.5,"apps":22800,"control":"Public"},{"rate":32.0,"apps":26300,"control":"Public"},{"rate":32.0,"apps":23700,"control":"Public"},{"rate":35.9,"apps":26300,"control":"Public"},{"rate":39.0,"apps":23600,"control":"Public"},{"rate":33.6,"apps":30000,"control":"Public"},{"rate":35.3,"apps":29500,"control":"Public"},{"rate":36.8,"apps":30300,"control":"Public"},{"rate":39.8,"apps":29100,"control":"Public"},{"rate":17.8,"apps":22400,"control":"Public"},
      {"rate":23.5,"apps":22700,"control":"Public"},{"rate":47.0,"apps":18700,"control":"Public"},{"rate":46.0,"apps":16400,"control":"Public"},{"rate":44.7,"apps":14000,"control":"Public"},{"rate":62.6,"apps":11000,"control":"Public"},{"rate":65.2,"apps":10700,"control":"Public"},{"rate":58.9,"apps":9500,"control":"Public"},{"rate":53.0,"apps":9500,"control":"Public"},{"rate":59.6,"apps":7700,"control":"Public"},{"rate":55.9,"apps":7400,"control":"Public"},
      {"rate":63.0,"apps":7100,"control":"Public"},{"rate":58.8,"apps":5400,"control":"Public"},{"rate":61.2,"apps":4800,"control":"Public"},{"rate":62.5,"apps":600,"control":"Public"},{"rate":71.9,"apps":840,"control":"Public"},{"rate":76.5,"apps":420,"control":"Public"},{"rate":74.2,"apps":7700,"control":"Public"},{"rate":74.2,"apps":4800,"control":"Public"},{"rate":76.7,"apps":2000,"control":"Public"},{"rate":81.8,"apps":4150,"control":"Public"},
      {"rate":80.6,"apps":580,"control":"Public"},{"rate":82.2,"apps":320,"control":"Public"},{"rate":88.8,"apps":1740,"control":"Public"},{"rate":66.5,"apps":1500,"control":"Public"},{"rate":68.0,"apps":600,"control":"Public"},{"rate":70.0,"apps":2500,"control":"Public"},{"rate":78.5,"apps":1100,"control":"Public"},

      {"rate":33.9,"apps":58000,"control":"Private not-for-profit"},{"rate":9.6,"apps":51800,"control":"Private not-for-profit"},{"rate":18.3,"apps":47500,"control":"Private not-for-profit"},{"rate":30.8,"apps":47500,"control":"Private not-for-profit"},{"rate":44.5,"apps":48300,"control":"Private not-for-profit"},{"rate":18.7,"apps":44100,"control":"Private not-for-profit"},{"rate":7.8,"apps":44100,"control":"Private not-for-profit"},{"rate":51.1,"apps":40100,"control":"Private not-for-profit"},{"rate":75.4,"apps":39000,"control":"Private not-for-profit"},{"rate":80.6,"apps":35200,"control":"Private not-for-profit"},
      {"rate":10.8,"apps":36300,"control":"Private not-for-profit"},{"rate":40.7,"apps":32300,"control":"Private not-for-profit"},{"rate":41.7,"apps":30600,"control":"Private not-for-profit"},{"rate":40.0,"apps":31200,"control":"Private not-for-profit"},{"rate":52.8,"apps":30300,"control":"Private not-for-profit"},{"rate":59.3,"apps":32000,"control":"Private not-for-profit"},{"rate":62.6,"apps":31500,"control":"Private not-for-profit"},{"rate":65.8,"apps":29100,"control":"Private not-for-profit"},{"rate":57.5,"apps":29000,"control":"Private not-for-profit"},{"rate":64.9,"apps":26600,"control":"Private not-for-profit"},
      {"rate":17.9,"apps":29200,"control":"Private not-for-profit"},{"rate":19.5,"apps":29800,"control":"Private not-for-profit"},{"rate":24.4,"apps":28200,"control":"Private not-for-profit"},{"rate":27.7,"apps":24800,"control":"Private not-for-profit"},{"rate":48.0,"apps":23200,"control":"Private not-for-profit"},{"rate":10.6,"apps":22900,"control":"Private not-for-profit"},{"rate":14.3,"apps":23700,"control":"Private not-for-profit"},{"rate":12.2,"apps":20800,"control":"Private not-for-profit"},{"rate":45.3,"apps":20200,"control":"Private not-for-profit"},{"rate":52.0,"apps":17800,"control":"Private not-for-profit"},
      {"rate":71.5,"apps":19100,"control":"Private not-for-profit"},{"rate":77.9,"apps":11500,"control":"Private not-for-profit"},{"rate":8.5,"apps":14300,"control":"Private not-for-profit"},{"rate":8.9,"apps":11900,"control":"Private not-for-profit"},{"rate":9.5,"apps":9500,"control":"Private not-for-profit"},{"rate":74.6,"apps":3200,"control":"Private not-for-profit"},{"rate":83.9,"apps":4700,"control":"Private not-for-profit"},{"rate":84.3,"apps":5050,"control":"Private not-for-profit"},{"rate":90.7,"apps":3200,"control":"Private not-for-profit"},{"rate":83.9,"apps":1900,"control":"Private not-for-profit"},
      {"rate":85.9,"apps":2000,"control":"Private not-for-profit"},{"rate":86.4,"apps":50,"control":"Private not-for-profit"},{"rate":88.8,"apps":160,"control":"Private not-for-profit"},{"rate":92.1,"apps":200,"control":"Private not-for-profit"},{"rate":99.4,"apps":0,"control":"Private not-for-profit"},{"rate":71.9,"apps":320,"control":"Private not-for-profit"},{"rate":74.4,"apps":50,"control":"Private not-for-profit"},{"rate":69.5,"apps":50,"control":"Private not-for-profit"},{"rate":67.8,"apps":2200,"control":"Private not-for-profit"},{"rate":64.5,"apps":5300,"control":"Private not-for-profit"},
      {"rate":65.1,"apps":3200,"control":"Private not-for-profit"},{"rate":76.0,"apps":900,"control":"Private not-for-profit"},{"rate":79.5,"apps":400,"control":"Private not-for-profit"},{"rate":81.0,"apps":1300,"control":"Private not-for-profit"},{"rate":78.2,"apps":150,"control":"Private not-for-profit"}
    ]
  },
  "vconcat": [
    {
      "width": 622,
      "height": 111,
      "data": {"name": "colleges"},
      "layer": [
        {
          "transform": [
            {"filter": "datum.control === 'Private not-for-profit'"},
            {"density": "rate", "bandwidth": 3.3, "counts": true, "extent": [-12.29, 117.29], "steps": 300, "as": ["rate", "dens"]}
          ],
          "layer": [
            {"mark": {"type": "area", "color": "#ff7f0e", "opacity": 0.25}, "encoding": {"x": {"field": "rate", "type": "quantitative"}, "y": {"field": "dens", "type": "quantitative", "stack": null}}},
            {"mark": {"type": "line", "color": "#ff7f0e", "strokeWidth": 1.5}, "encoding": {"x": {"field": "rate", "type": "quantitative"}, "y": {"field": "dens", "type": "quantitative"}}}
          ]
        },
        {
          "transform": [
            {"filter": "datum.control === 'Public'"},
            {"density": "rate", "bandwidth": 4.6, "counts": true, "extent": [-12.29, 117.29], "steps": 300, "as": ["rate", "dens"]}
          ],
          "layer": [
            {"mark": {"type": "area", "color": "#1f77b4", "opacity": 0.25}, "encoding": {"x": {"field": "rate", "type": "quantitative"}, "y": {"field": "dens", "type": "quantitative", "stack": null}}},
            {"mark": {"type": "line", "color": "#1f77b4", "strokeWidth": 1.5}, "encoding": {"x": {"field": "rate", "type": "quantitative"}, "y": {"field": "dens", "type": "quantitative"}}}
          ]
        }
      ],
      "encoding": {
        "x": {"field": "rate", "type": "quantitative",
          "scale": {"domain": [-12.29, 117.29], "nice": false, "zero": false},
          "axis": {"values": [0, 25, 50, 75, 100], "labels": false, "title": null}},
        "y": {"field": "dens", "type": "quantitative",
          "scale": {"range": [111, 6], "nice": false, "zero": true},
          "axis": null}
      }
    },
    {
      "hconcat": [
        {
          "width": 622,
          "height": 636,
          "data": {"name": "colleges"},
          "mark": {"type": "circle", "size": 140, "opacity": 1, "stroke": "white", "strokeWidth": 1.3},
          "encoding": {
            "x": {"field": "rate", "type": "quantitative",
              "scale": {"domain": [-12.29, 117.29], "nice": false, "zero": false},
              "axis": {"values": [0, 25, 50, 75, 100], "title": "Enrollment Rate %", "labelPadding": 4, "titlePadding": 10}},
            "y": {"field": "apps", "type": "quantitative",
              "scale": {"domain": [-13570, 86785], "nice": false, "zero": false},
              "axis": {"values": [0, 20000, 40000, 60000, 80000], "format": "d", "title": "Applications", "labelPadding": 10, "titlePadding": 12}},
            "color": {"field": "control", "type": "nominal",
              "scale": {"domain": ["Public", "Private not-for-profit"], "range": ["#1f77b4", "#ff7f0e"]},
              "legend": {
                "orient": "none", "legendX": 201, "legendY": 11,
                "title": "control_of_institution", "titleAnchor": "middle",
                "titleFont": "DejaVu Sans", "labelFont": "DejaVu Sans",
                "titleFontSize": 29.5, "titleFontWeight": "normal", "labelFontSize": 29.5,
                "titleColor": "#222222", "labelColor": "#222222",
                "titleLimit": 600, "labelLimit": 600,
                "symbolType": "circle", "symbolSize": 160, "symbolOpacity": 1,
                "symbolStrokeColor": "white", "symbolStrokeWidth": 1.3,
                "symbolOffset": 11, "labelOffset": 40,
                "padding": 14, "rowPadding": 16, "titlePadding": 16,
                "fillColor": "rgba(255,255,255,0.8)", "strokeColor": "#cccccc", "cornerRadius": 5
              }}
          }
        },
        {
          "width": 106,
          "height": 636,
          "data": {"name": "colleges"},
          "layer": [
            {
              "transform": [
                {"filter": "datum.control === 'Private not-for-profit'"},
                {"density": "apps", "bandwidth": 1600, "counts": true, "extent": [-13570, 86785], "steps": 400, "as": ["apps", "dens"]}
              ],
              "layer": [
                {"mark": {"type": "area", "orient": "horizontal", "color": "#ff7f0e", "opacity": 0.25}, "encoding": {"x": {"field": "dens", "type": "quantitative", "stack": null}, "y": {"field": "apps", "type": "quantitative"}}},
                {"mark": {"type": "line", "color": "#ff7f0e", "strokeWidth": 1.5}, "encoding": {"x": {"field": "dens", "type": "quantitative"}, "y": {"field": "apps", "type": "quantitative"}, "order": {"field": "apps"}}}
              ]
            },
            {
              "transform": [
                {"filter": "datum.control === 'Public'"},
                {"density": "apps", "bandwidth": 3200, "counts": true, "extent": [-13570, 86785], "steps": 400, "as": ["apps", "dens"]}
              ],
              "layer": [
                {"mark": {"type": "area", "orient": "horizontal", "color": "#1f77b4", "opacity": 0.25}, "encoding": {"x": {"field": "dens", "type": "quantitative", "stack": null}, "y": {"field": "apps", "type": "quantitative"}}},
                {"mark": {"type": "line", "color": "#1f77b4", "strokeWidth": 1.5}, "encoding": {"x": {"field": "dens", "type": "quantitative"}, "y": {"field": "apps", "type": "quantitative"}, "order": {"field": "apps"}}}
              ]
            }
          ],
          "encoding": {
            "x": {"field": "dens", "type": "quantitative",
              "scale": {"range": [0, 101], "nice": false, "zero": true},
              "axis": {"title": "1e\u22125", "labels": false, "ticks": false, "domain": false, "titleAnchor": "end", "titlePadding": 8}},
            "y": {"field": "apps", "type": "quantitative",
              "scale": {"domain": [-13570, 86785], "nice": false, "zero": false},
              "axis": {"values": [0, 20000, 40000, 60000, 80000], "labels": false, "title": null}}
          }
        }
      ],
      "spacing": 21,
      "bounds": "flush",
      "resolve": {"scale": {"color": "independent", "x": "independent", "y": "independent"}, "legend": {"color": "independent"}}
    }
  ],
  "spacing": 21,
  "bounds": "flush",
  "resolve": {"scale": {"color": "independent", "x": "independent", "y": "independent"}, "legend": {"color": "independent"}}
}
